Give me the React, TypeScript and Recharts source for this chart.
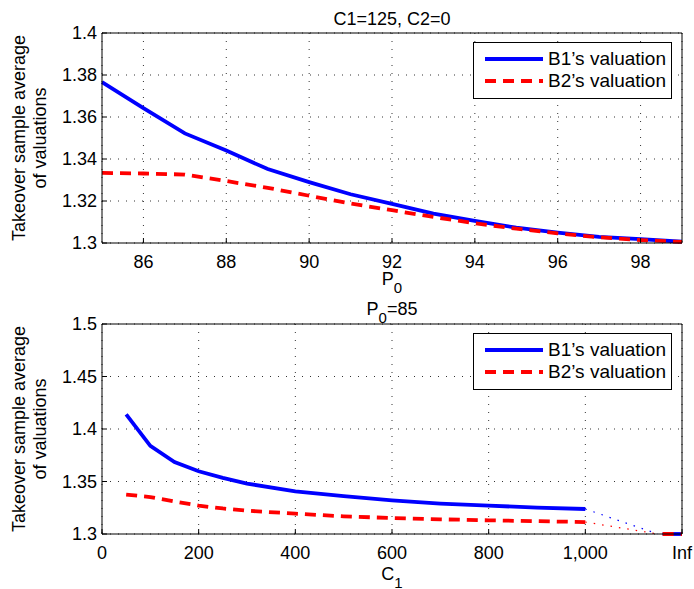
import React from 'react'
import { LineChart, Line, XAxis, YAxis, CartesianGrid, Label } from 'recharts'

const FONT = '"Liberation Sans", Arial, Helvetica, sans-serif'
const BLUE = '#0000ff'
const RED = '#ff0000'

// top panel: C1=125, C2=0, varying P0
const p0Values = [85, 86, 87, 88, 89, 90, 91, 92, 93, 94, 95, 96, 97, 98, 99]
const b1ByP0 = [1.3766, 1.3642, 1.3522, 1.344, 1.3352, 1.329, 1.3232, 1.3186, 1.314, 1.3105, 1.3073, 1.3049, 1.3029, 1.3018, 1.3006]
const b2ByP0 = [1.3334, 1.3331, 1.3326, 1.3295, 1.3263, 1.3225, 1.3188, 1.3156, 1.3124, 1.3094, 1.3068, 1.3046, 1.3027, 1.3014, 1.3005]
const p0Ticks = [86, 88, 90, 92, 94, 96, 98]
const topYTicks = [1.3, 1.32, 1.34, 1.36, 1.38, 1.4]

// bottom panel: P0=85, varying C1 (Inf drawn at the right edge)
const c1Values = [50, 100, 150, 200, 250, 300, 400, 500, 600, 700, 800, 900, 1000]
const b1ByC1 = [1.414, 1.384, 1.3686, 1.3597, 1.3535, 1.348, 1.3406, 1.336, 1.332, 1.329, 1.327, 1.3252, 1.3238]
const b2ByC1 = [1.3375, 1.3352, 1.331, 1.327, 1.3243, 1.3222, 1.3194, 1.3168, 1.3152, 1.314, 1.313, 1.3122, 1.3114]
const infC1 = [1160, 1200]
const infValue = 1.3
const gapEndC1 = 1150
const c1Ticks = [0, 200, 400, 600, 800, 1000, 1200]
const bottomYTicks = [1.3, 1.35, 1.4, 1.45, 1.5]

const topB1 = p0Values.map((x, i) => ({ x, v: b1ByP0[i] }))
const topB2 = p0Values.map((x, i) => ({ x, v: b2ByP0[i] }))
const botB1 = c1Values.map((x, i) => ({ x, v: b1ByC1[i] }))
const botB2 = c1Values.map((x, i) => ({ x, v: b2ByC1[i] }))
const infRow = infC1.map(x => ({ x, v: infValue }))
const b1Gap = [botB1[botB1.length - 1], { x: gapEndC1, v: infValue }]
const b2Gap = [botB2[botB2.length - 1], { x: gapEndC1, v: infValue }]

const tickStyle = { fill: '#000', fontSize: 18, fontFamily: FONT }
const axisLine = { stroke: '#000', strokeWidth: 1 }
const LW = 3.8

function YTitle({ viewBox }: any) {
  const cy = viewBox.y + viewBox.height / 2
  return (
    <g fontFamily={FONT} fontSize={18} fill="#000">
      <text x={25} y={cy} textAnchor="middle" transform={`rotate(-90, 25, ${cy})`}>
        Takeover sample average
      </text>
      <text x={46} y={cy} textAnchor="middle" transform={`rotate(-90, 46, ${cy})`}>
        of valuations
      </text>
    </g>
  )
}

function subLabel(main: string, sub: string, dy: number, rest = '') {
  return ({ viewBox }: any) => (
    <text
      x={viewBox.x + viewBox.width / 2}
      y={viewBox.y + dy}
      textAnchor="middle"
      fontFamily={FONT}
      fontSize={18}
      fill="#000"
    >
      {main}
      <tspan dy={8} fontSize={15}>{sub}</tspan>
      {rest && <tspan dy={-8}>{rest}</tspan>}
    </text>
  )
}

function Key({ top }: { top: number }) {
  const row = (color: string, dash: string | undefined, text: string) => (
    <div style={{ display: 'flex', alignItems: 'center', height: 22 }}>
      <svg width={72} height={22}>
        <line x1={11} x2={69} y1={11} y2={11} stroke={color} strokeWidth={LW} strokeDasharray={dash} />
      </svg>
      <span style={{ fontSize: 19, marginLeft: 2 }}>{text}</span>
    </div>
  )
  return (
    <div
      style={{
        position: 'absolute', left: 473, top, width: 197, height: 50,
        border: '1px solid #000', background: '#fff', paddingTop: 5, boxSizing: 'content-box',
      }}
    >
      {row(BLUE, undefined, 'B1\u2019s valuation')}
      {row(RED, '11 7', 'B2\u2019s valuation')}
    </div>
  )
}

export default function App() {
  return (
    <div style={{ position: 'absolute', left: 0, top: 0, width: 694, height: 589, background: '#fff', fontFamily: FONT }}>
      <div style={{ position: 'absolute', left: 0, top: 0 }}>
        <LineChart width={694} height={300} margin={{ top: 32, right: 11, bottom: 10, left: 0 }}>
          <CartesianGrid xAxisId="x" yAxisId="v" stroke="#333" strokeDasharray="1 7" />
          <XAxis xAxisId="x" dataKey="x" type="number" domain={[85, 99]} ticks={p0Ticks} height={47}
            tick={tickStyle} tickSize={-5} tickMargin={17} axisLine={axisLine} tickLine={axisLine}>
            <Label content={subLabel('P', '0', 42)} />
          </XAxis>
          <XAxis xAxisId="t" orientation="top" type="number" domain={[85, 99]} ticks={p0Ticks} height={1}
            tick={false} tickSize={-5} axisLine={axisLine} tickLine={axisLine}>
            <Label content={({ viewBox }: any) => (
              <text x={viewBox.x + viewBox.width / 2} y={viewBox.y - 7} textAnchor="middle"
                fontFamily={FONT} fontSize={18} fill="#000">C1=125, C2=0</text>
            )} />
          </XAxis>
          <YAxis yAxisId="v" type="number" domain={[1.3, 1.4]} ticks={topYTicks} width={102}
            tick={tickStyle} tickSize={-5} tickMargin={10} axisLine={axisLine} tickLine={axisLine}>
            <Label content={YTitle} />
          </YAxis>
          <YAxis yAxisId="r" orientation="right" type="number" domain={[1.3, 1.4]} ticks={topYTicks} width={1}
            tick={false} tickSize={-5} axisLine={axisLine} tickLine={axisLine} />
          <Line xAxisId="x" yAxisId="v" data={topB1} dataKey="v" stroke={BLUE} strokeWidth={LW}
            dot={false} isAnimationActive={false} />
          <Line xAxisId="x" yAxisId="v" data={topB2} dataKey="v" stroke={RED} strokeWidth={LW}
            strokeDasharray="11 7" dot={false} isAnimationActive={false} />
        </LineChart>
      </div>
      <Key top={42} />

      <div style={{ position: 'absolute', left: 0, top: 290 }}>
        <LineChart width={694} height={299} margin={{ top: 33, right: 11, bottom: 0, left: 0 }}>
          <CartesianGrid xAxisId="x" yAxisId="v" stroke="#333" strokeDasharray="1 7" />
          <XAxis xAxisId="x" dataKey="x" type="number" domain={[0, 1200]} ticks={c1Ticks} height={55}
            tick={tickStyle} tickSize={-5} tickMargin={17} axisLine={axisLine} tickLine={axisLine}
            tickFormatter={(v: number) => (v === 1200 ? 'Inf' : v.toLocaleString('en-US'))}>
            <Label content={subLabel('C', '1', 46)} />
          </XAxis>
          <XAxis xAxisId="t" orientation="top" type="number" domain={[0, 1200]} ticks={c1Ticks} height={1}
            tick={false} tickSize={-5} axisLine={axisLine} tickLine={axisLine}>
            <Label content={subLabel('P', '0', -8, '=85')} />
          </XAxis>
          <YAxis yAxisId="v" type="number" domain={[1.3, 1.5]} ticks={bottomYTicks} width={102}
            tick={tickStyle} tickSize={-5} tickMargin={10} axisLine={axisLine} tickLine={axisLine}>
            <Label content={YTitle} />
          </YAxis>
          <YAxis yAxisId="r" orientation="right" type="number" domain={[1.3, 1.5]} ticks={bottomYTicks} width={1}
            tick={false} tickSize={-5} axisLine={axisLine} tickLine={axisLine} />
          <Line xAxisId="x" yAxisId="v" data={b1Gap} dataKey="v" stroke={BLUE} strokeWidth={1.2}
            strokeDasharray="1.5 7" dot={false} isAnimationActive={false} />
          <Line xAxisId="x" yAxisId="v" data={b2Gap} dataKey="v" stroke={RED} strokeWidth={1.2}
            strokeDasharray="1.5 7" dot={false} isAnimationActive={false} />
          <Line xAxisId="x" yAxisId="v" data={botB1} dataKey="v" stroke={BLUE} strokeWidth={LW}
            dot={false} isAnimationActive={false} />
          <Line xAxisId="x" yAxisId="v" data={botB2} dataKey="v" stroke={RED} strokeWidth={LW}
            strokeDasharray="11 7" dot={false} isAnimationActive={false} />
          <Line xAxisId="x" yAxisId="v" data={infRow} dataKey="v" stroke={BLUE} strokeWidth={LW}
            dot={false} isAnimationActive={false} />
          <Line xAxisId="x" yAxisId="v" data={infRow} dataKey="v" stroke={RED} strokeWidth={LW}
            strokeDasharray="11 7" dot={false} isAnimationActive={false} />
        </LineChart>
      </div>
      <Key top={333} />
    </div>
  )
}
